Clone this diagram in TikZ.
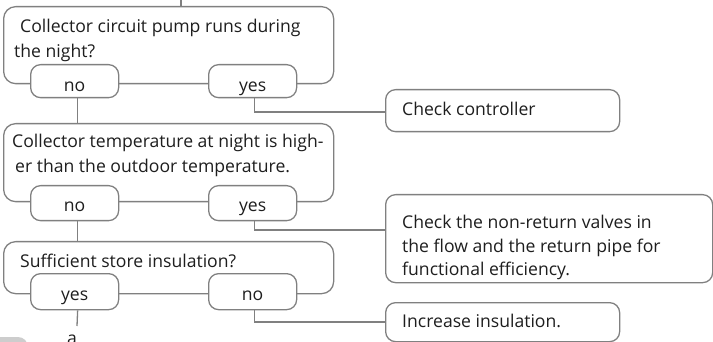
\documentclass[tikz,border=0pt]{standalone}
\usepackage{fontspec}
\setmainfont{Open Sans}
\definecolor{linegrey}{RGB}{128,128,128}
\definecolor{txt}{RGB}{30,30,30}
\definecolor{blob}{RGB}{205,205,205}
\begin{document}
\begin{tikzpicture}[x=1pt,y=-1pt,
  box/.style={draw=linegrey,line width=1.3pt,fill=white,rounded corners=12pt,minimum width=#1,inner sep=0pt,anchor=north west},
  answer/.style={draw=linegrey,line width=1.3pt,fill=white,rounded corners=10pt,minimum width=88pt,minimum height=33pt,inner sep=0pt,anchor=north west},
  lbl/.style={anchor=base west,inner sep=0pt,text=txt,font=\fontsize{17.6}{20}\selectfont},
  albl/.style={anchor=base,inner sep=0pt,text=txt,font=\fontsize{17.6}{20}\selectfont},
  conn/.style={draw=linegrey,line width=1.3pt}]
\useasboundingbox (0,0) rectangle (713,342);
\clip (0,0) rectangle (713,342);
% blob at bottom left
\fill[blob,rounded corners=10pt] (-20,337) rectangle (28,370);
\coordinate (top) at (181,-2);
% Question 1
\node[box=330pt,minimum height=77pt] (q1) at (3,6) {};
\draw[conn] (top) -- (q1.north -| top);
\node[lbl] (q1a) at (20,33) {Collector circuit pump runs during};
\node[lbl] (q1b) at (14,58) {the night?};
\node[answer] (no1) at (30,64) {};
\node[albl] (no1t) at (no1.center |- 0,92) {no};
\node[answer] (yes1) at (208,64) {};
\node[albl] (yes1t) at (yes1.center |- 0,92) {yes};
% Check controller
\node[box=234pt,minimum height=42pt,rounded corners=10pt] (r1) at (385,89) {};
\node[lbl] (r1t) at (402,116) {Check controller};
\draw[conn] ([xshift=2pt]yes1.south) |- (r1.west |- 0,112);
% Question 2
\node[box=330pt,minimum height=78pt] (q2) at (3,123) {};
\draw[conn] ([xshift=3pt]no1.south) -- ([xshift=3pt]no1.south |- q2.north);
\node[lbl] (q2a) at (12,148) {Collector temperature at night is high-};
\node[lbl] (q2b) at (15,173) {er than the outdoor temperature.};
\node[answer,minimum height=35pt] (no2) at (30,185) {};
\node[albl] (no2t) at (no2.center |- 0,212) {no};
\node[answer,minimum height=35pt] (yes2) at (208,185) {};
\node[albl] (yes2t) at (yes2.center |- 0,212) {yes};
% Check non-return valves
\node[box=327pt,minimum height=88pt,rounded corners=10pt] (r2) at (385,194) {};
\node[lbl] (r2a) at (402,229) {Check the non-return valves in};
\node[lbl] (r2b) at (402,253) {the flow and the return pipe for};
\node[lbl] (r2c) at (402,276) {functional efficiency.};
\draw[conn] ([xshift=2pt]yes2.south) |- (r2.west |- 0,230);
% Question 3
\node[box=330pt,minimum height=52pt] (q3) at (3,241) {};
\draw[conn] ([xshift=3pt]no2.south) -- ([xshift=3pt]no2.south |- q3.north);
\node[lbl] (q3a) at (20,267) {Sufficient store insulation?};
\node[answer,minimum height=36pt] (yes3) at (30,273) {};
\node[albl] (yes3t) at (yes3.center |- 0,300) {yes};
\node[answer,minimum height=36pt] (no3) at (208,273) {};
\node[albl] (no3t) at (no3.center |- 0,300) {no};
% Increase insulation
\node[box=234pt,minimum height=39pt,rounded corners=10pt] (r3) at (385,302) {};
\node[lbl] (r3t) at (402,327) {Increase insulation.};
\draw[conn] ([xshift=2pt]no3.south) |- (r3.west |- 0,322);
% continuation
\coordinate (cont) at (77,326);
\draw[conn] ([xshift=3pt]yes3.south) -- (cont);
\node[albl] (a) at (72,344) {a};
\end{tikzpicture}
\end{document}
